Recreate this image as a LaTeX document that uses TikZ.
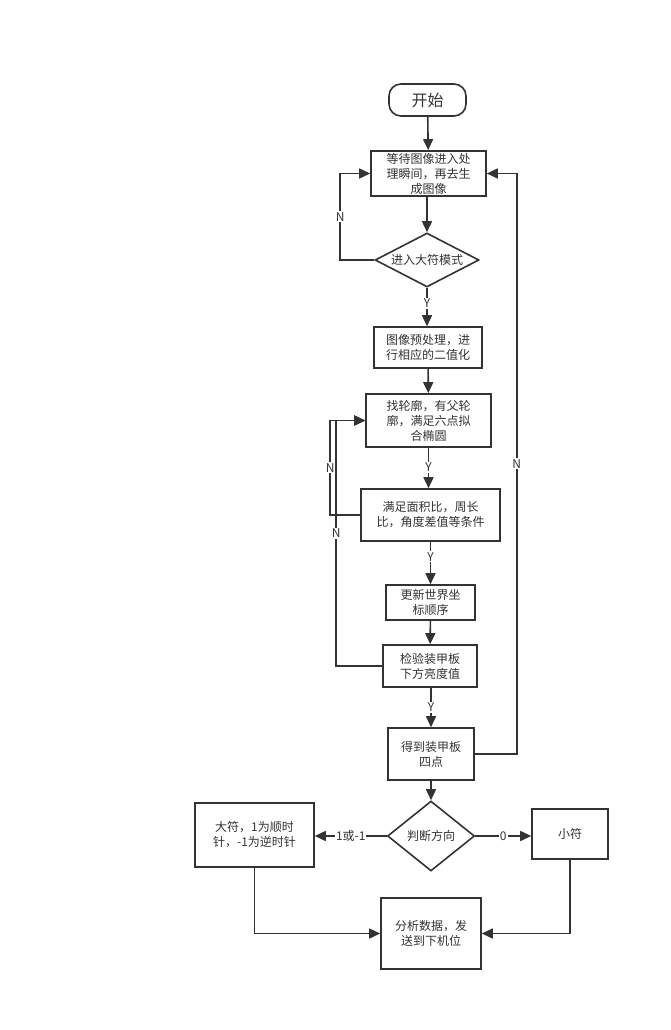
\documentclass[tikz,border=0pt]{standalone}
\usepackage{fontspec}
\setmainfont{Noto Sans CJK SC}
\usetikzlibrary{shapes.geometric,arrows.meta}
\definecolor{ln}{HTML}{333333}
\tikzset{
  box/.style={draw=ln,line width=1.6pt,fill=white,rectangle,inner sep=0pt,align=center,font=\fontsize{12}{15}\selectfont,text=ln},
  dia/.style={draw=ln,line width=1.6pt,fill=white,diamond,inner sep=0pt,align=center,font=\fontsize{12}{15}\selectfont,text=ln},
  arr/.style={draw=ln,line width=1.6pt,-{Triangle[length=11pt,width=10pt]}},
  lbl/.style={fill=white,inner sep=1pt,font=\fontsize{12}{14}\selectfont,text=ln}
}
\begin{document}
\begin{tikzpicture}[x=1pt,y=-1pt]
\useasboundingbox[fill=white] (0,0) rectangle (670,1030);
\node[box,rounded corners=12pt,minimum width=77pt,minimum height=32pt,font=\fontsize{16}{18}\selectfont] (start) at (427.5,100) {开始};
\node[box,minimum width=115pt,minimum height=45pt] (b1) at (428.5,173.5) {等待图像进入处\\理瞬间，再去生\\成图像};
\node[dia,aspect=2.2,minimum width=104pt,minimum height=54pt] (d1) at (427,260) {进入大符模式};
\node[box,minimum width=108pt,minimum height=41pt] (b2) at (428,347.5) {图像预处理，进\\行相应的二值化};
\node[box,minimum width=125pt,minimum height=53pt] (b3) at (428.5,420.5) {找轮廓，有父轮\\廓，满足六点拟\\合椭圆};
\node[box,minimum width=139pt,minimum height=52pt] (b4) at (430.5,515) {满足面积比，周长\\比，角度差值等条件};
\node[box,minimum width=89pt,minimum height=35pt] (b5) at (430.5,602.5) {更新世界坐\\标顺序};
\node[box,minimum width=94pt,minimum height=42pt] (b6) at (430,666) {检验装甲板\\下方亮度值};
\node[box,minimum width=86pt,minimum height=52pt] (b7) at (431,754) {得到装甲板\\四点};
\node[dia,minimum width=87pt,minimum height=70pt] (d2) at (431,836) {判断方向};
\node[box,minimum width=119pt,minimum height=64pt] (b8) at (254.5,835) {大符，1为顺时\\针，-1为逆时针};
\node[box,minimum width=76pt,minimum height=50pt] (b9) at (570,834) {小符};
\node[box,minimum width=100pt,minimum height=71pt] (b10) at (431,933.5) {分析数据，发\\送到下机位};

\draw[arr] (start) -- (b1);
\draw[arr] (b1.south -| d1.north) -- (d1.north);
\draw[arr] (d1.west) -- ++(-34,0) |- (b1.west) node[lbl,pos=0.25] {N};
\draw[arr] (d1.south) -- (b2.north -| d1.south) node[lbl,pos=0.4] {Y};
\draw[arr] (b2) -- (b3);
\draw[arr] (b3.south) -- (b4.north -| b3.south) node[lbl,pos=0.48] {Y};
\draw[arr] (b4.west) -- ++(-30,0) |- (b3.west) node[lbl,pos=0.25] {N};
\draw[arr] (b6.west) -- ++(-46,0) |- (b3.west) node[lbl,pos=0.27] {N};
\draw[arr] (b4.south) -- (b5.north) node[lbl,pos=0.35] {Y};
\draw[arr] (b5) -- (b6);
\draw[arr] (b6.south -| b7.north) -- (b7.north) node[lbl,pos=0.5] {Y};
\draw[arr] (b7.east) -- ++(42,0) |- (b1.east) node[lbl,pos=0.25] {N};
\draw[arr] (b7) -- (d2);
\draw[arr] (d2.west) -- (b8.east |- d2.west) node[lbl,pos=0.5] {1或-1};
\draw[arr] (d2.east) -- (b9.west |- d2.east) node[lbl,pos=0.5] {0};
\draw[arr] (b8.south) |- (b10.west);
\draw[arr] (b9.south) |- (b10.east);
\end{tikzpicture}
\end{document}
